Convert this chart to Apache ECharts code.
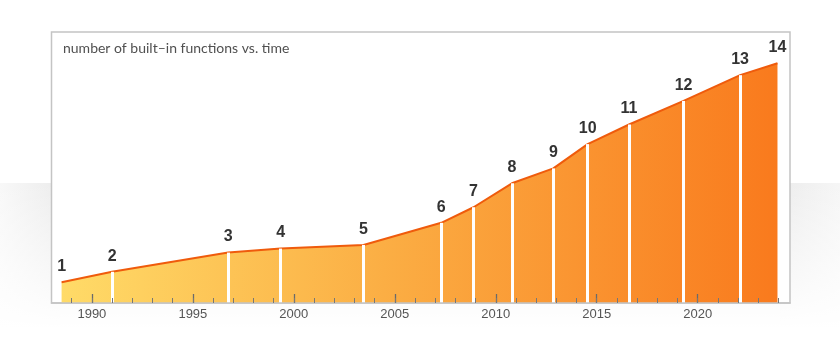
<!DOCTYPE html>
<html>
<head>
<meta charset="utf-8">
<script src="https://cdn.jsdelivr.net/npm/echarts@6/dist/echarts.min.js"></script>
<style>html,body{margin:0;padding:0;background:#fff}#c{width:840px;height:342px}</style>
</head>
<body>
<div id="c"></div>
<script>
const versions = ['1','2','3','4','5','6','7','8','9','10','11','12','13','14'];
const releaseYears = [1988.5, 1991.0, 1996.75, 1999.35, 2003.45, 2007.3, 2008.9, 2010.8, 2012.85, 2014.55, 2016.6, 2019.3, 2022.1, 2023.95];
const functionCounts = [570, 860, 1390, 1500, 1600, 2210, 2640, 3300, 3710, 4380, 4920, 5570, 6280, 6610];
const majorTicks = [1990, 1995, 2000, 2005, 2010, 2015, 2020];
const minorTicks = [1989,1990,1991,1992,1993,1994,1995,1996,1997,1998,1999,2000,2001,2002,2003,2004,2005,2006,2007,2008,2009,2010,2011,2012,2013,2014,2015,2016,2017,2018,2019,2020,2021,2022,2023,2024];
const titleText = 'number of built\u2013in functions vs. time';

const chart = echarts.init(document.getElementById('c'), null, {renderer: 'canvas'});
const G = echarts.graphic;
const points = releaseYears.map((x, i) => [x, functionCounts[i]]);
const whiteLines = releaseYears.slice(1, releaseYears.length - 1).map((x, k) => [
  {coord: [x, 0]}, {coord: [x, functionCounts[k + 1]]}
]);

chart.setOption({
  animation: false,
  backgroundColor: '#fff',
  title: {
    text: titleText, left: 63, top: 41, padding: 0,
    textStyle: {fontFamily: 'Lato', fontSize: 14, fontWeight: 'normal', color: '#505050'}
  },
  graphic: [
    {type: 'rect', z: -12, shape: {x: 0, y: 183, width: 60, height: 145},
     style: {fill: new G.LinearGradient(0, 0, 1, 0, [
       {offset: 0, color: '#f8f8f8'}, {offset: 1, color: '#ececec'}])}},
    {type: 'rect', z: -12, shape: {x: 780, y: 183, width: 60, height: 145},
     style: {fill: new G.LinearGradient(0, 0, 1, 0, [
       {offset: 0, color: '#ececec'}, {offset: 1, color: '#f6f6f6'}])}},
    {type: 'rect', z: -12, shape: {x: 60, y: 183, width: 720, height: 145},
     style: {fill: '#f0f0f0'}},
    {type: 'rect', z: -11, shape: {x: 0, y: 183, width: 840, height: 146},
     style: {fill: new G.LinearGradient(0, 0, 0, 1, [
       {offset: 0, color: 'rgba(255,255,255,0)'}, {offset: 0.55, color: 'rgba(255,255,255,0.55)'}, {offset: 1, color: 'rgba(255,255,255,1)'}])}},
    {type: 'rect', z: -5, shape: {x: 51.5, y: 32, width: 738.5, height: 271},
     style: {fill: '#ffffff', stroke: '#c4c4c4', lineWidth: 1.5}}
  ],
  grid: {left: 51.5, right: 50, top: 32, bottom: 39, containLabel: false},
  xAxis: [
    {type: 'value', min: 1988, max: 2024.57, z: 10, splitLine: {show: false},
     axisLine: {show: true, lineStyle: {color: '#c4c4c4', width: 1.5}},
     axisTick: {show: true, inside: true, length: 9, customValues: majorTicks, lineStyle: {color: '#6a6a6a', width: 1.3}},
     axisLabel: {customValues: majorTicks, color: '#555', fontSize: 13, fontFamily: 'Liberation Sans', margin: 5,
       formatter: v => String(v)}},
    {type: 'value', min: 1988, max: 2024.57, z: 10, position: 'bottom', splitLine: {show: false},
     axisLine: {show: false},
     axisTick: {show: true, inside: true, length: 5, customValues: minorTicks, lineStyle: {color: '#777777', width: 1}},
     axisLabel: {show: false}}
  ],
  yAxis: {type: 'value', min: 0, max: 7470, show: false},
  series: [{
    type: 'line', xAxisIndex: 0, data: points,
    symbol: 'circle', symbolSize: 1, itemStyle: {color: 'rgba(0,0,0,0)'},
    lineStyle: {color: '#EF5B0C', width: 2},
    areaStyle: {opacity: 1, color: new G.LinearGradient(0, 0, 1, 0, [
      {offset: 0, color: '#FFDB68'}, {offset: 0.45, color: '#FBAE44'}, {offset: 1, color: '#F97A1D'}])},
    label: {show: true, position: 'top', distance: 7, fontFamily: 'Liberation Sans', fontWeight: 'bold',
      fontSize: 16, color: '#333', formatter: p => versions[p.dataIndex]},
    markLine: {silent: true, symbol: ['none', 'none'], z: 5, label: {show: false},
      lineStyle: {color: '#ffffff', width: 3, type: 'solid', opacity: 1},
      emphasis: {disabled: true}, data: whiteLines}
  }]
});
</script>
</body>
</html>
